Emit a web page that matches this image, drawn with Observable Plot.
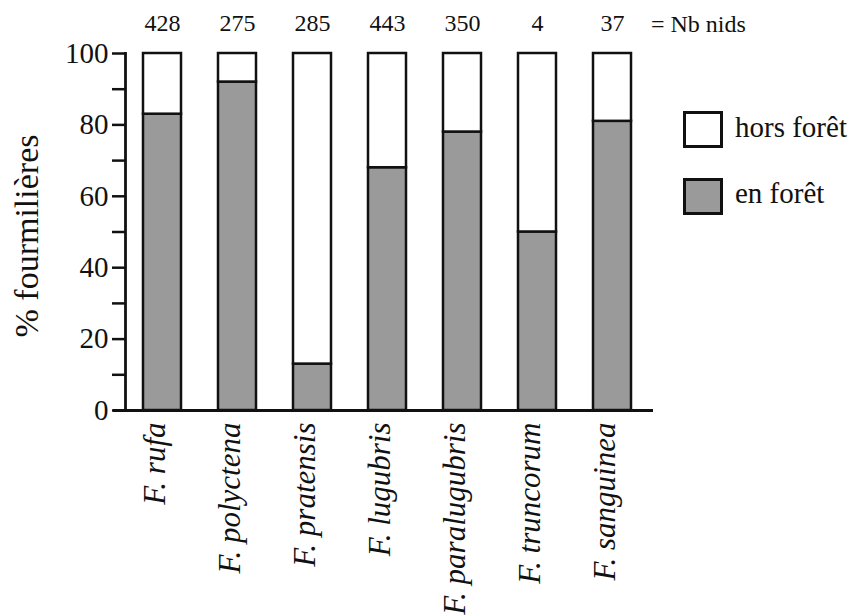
<!DOCTYPE html>
<html>
<head>
<meta charset="utf-8">
<script src="https://cdn.jsdelivr.net/npm/d3@7"></script>
<script src="https://cdn.jsdelivr.net/npm/@observablehq/plot@0.6"></script>
<style>
  html, body { margin: 0; padding: 0; background: #fff; }
  #wrap { position: relative; width: 857px; height: 616px; font-family: "Liberation Serif", "Times New Roman", serif; color: #111; }
  .lab { position: absolute; white-space: nowrap; line-height: 24px; }
  .box { position: absolute; box-sizing: border-box; width: 40px; height: 37px; border: 3px solid #111; }
</style>
</head>
<body>
<div id="wrap"></div>
<script>
const species = ["F. rufa", "F. polyctena", "F. pratensis", "F. lugubris", "F. paralugubris", "F. truncorum", "F. sanguinea"];
const nests = [428, 275, 285, 443, 350, 4, 37];
const inForest = [83, 92, 13, 68, 78, 50, 81];
const outForest = inForest.map(v => 100 - v);
const seriesNames = ["en forêt", "hors forêt"];
const seriesColors = ["#9a9a9a", "#ffffff"];
const yTicks = [0, 10, 20, 30, 40, 50, 60, 70, 80, 90, 100];

const rows = [];
species.forEach((s, i) => {
  rows.push({species: s, group: seriesNames[0], value: inForest[i]});
  rows.push({species: s, group: seriesNames[1], value: outForest[i]});
});

const chart = Plot.plot({
  width: 857,
  height: 616,
  marginLeft: 125,
  marginRight: 207,
  marginTop: 53,
  marginBottom: 206,
  style: {fontFamily: "'Liberation Serif', 'Times New Roman', serif", color: "#111", background: "transparent"},
  x: {domain: species, paddingInner: 0.49, paddingOuter: 0.245},
  y: {domain: [0, 100]},
  color: {domain: seriesNames, range: seriesColors},
  marks: [
    Plot.barY(rows, Plot.stackY({x: "species", y: "value", fill: "group", order: seriesNames, stroke: "#111", strokeWidth: 2.5})),
    Plot.ruleY([0], {stroke: "#111", strokeWidth: 2.8, insetLeft: -12, insetRight: -3}),
    Plot.axisY({ticks: yTicks, tickFormat: d => d % 20 === 0 ? d : "", tickSize: 13, tickPadding: 4, strokeWidth: 2.5, fontSize: 29, label: null}),
    Plot.frame({anchor: "left", stroke: "#111", strokeWidth: 2.8}),
    Plot.axisX({tickSize: 0, tickPadding: 12, tickRotate: -90, fontSize: 31, fontStyle: "italic", dx: -7, label: null}),
    Plot.text(species, {x: d => d, y: () => 100, text: (d, i) => String(nests[i]), dy: -30, fontSize: 24, fill: "#111"}),
    Plot.text(["% fourmilières"], {frameAnchor: "left", textAnchor: "middle", dx: -98, dy: 4, rotate: -90, fontSize: 34, fill: "#111"})
  ]
});

const wrap = document.getElementById("wrap");
wrap.appendChild(chart);

function addLabel(text, left, top, size) {
  const el = document.createElement("div");
  el.className = "lab";
  el.textContent = text;
  el.style.left = left + "px";
  el.style.top = top + "px";
  el.style.fontSize = size + "px";
  wrap.appendChild(el);
}
function addBox(color, left, top) {
  const el = document.createElement("div");
  el.className = "box";
  el.style.left = left + "px";
  el.style.top = top + "px";
  el.style.background = color;
  wrap.appendChild(el);
}
addLabel("= Nb nids", 651, 12, 24);
addBox(seriesColors[1], 683, 111);
addLabel(seriesNames[1], 735, 115, 29);
addBox(seriesColors[0], 683, 178);
addLabel(seriesNames[0], 735, 181, 29);
</script>
</body>
</html>
